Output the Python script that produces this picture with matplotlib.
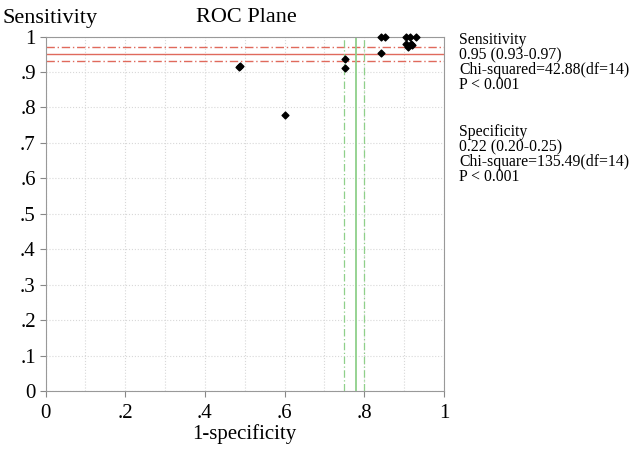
import matplotlib.pyplot as plt
import numpy as np

plt.rcParams['font.family'] = ['Liberation Serif', 'DejaVu Serif']

# 1-specificity, sensitivity of each study
fpr = [0.485, 0.489, 0.600, 0.751, 0.751, 0.842, 0.843, 0.853,
       0.905, 0.915, 0.930, 0.905, 0.917, 0.910, 0.920]
sens = [0.913, 0.918, 0.778, 0.936, 0.912, 0.954, 1.0, 1.0,
        1.0, 1.0, 1.0, 0.980, 0.980, 0.970, 0.975]

sens_pooled = [0.95, 0.93, 0.97]
spec_pooled = [0.22, 0.20, 0.25]

xticks = [0, 0.2, 0.4, 0.6, 0.8, 1.0]
xticklabels = ['0', '.2', '.4', '.6', '.8', '1']
yticks = [0, 0.1, 0.2, 0.3, 0.4, 0.5, 0.6, 0.7, 0.8, 0.9, 1.0]
yticklabels = ['0', '.1', '.2', '.3', '.4', '.5', '.6', '.7', '.8', '.9', '1']

sens_text = ["Sensitivity", "0.95 (0.93-0.97)", "Chi-squared=42.88(df=14)", "P < 0.001"]
spec_text = ["Specificity", "0.22 (0.20-0.25)", "Chi-square=135.49(df=14)", "P < 0.001"]

fig = plt.figure(figsize=(6.32, 4.49), dpi=100)
W, H = 632, 449
ax = fig.add_axes([45.5 / W, 1 - 391 / H, (444 - 45.5) / W, (391 - 36.5) / H])

ax.set_xlim(0, 1)
ax.set_ylim(0, 1)
ax.set_xticks(np.arange(0, 1.01, 0.1), minor=True)
ax.grid(True, which='both', color='#d8d8d8', linestyle=':', linewidth=0.8)
ax.set_axisbelow(True)

# pooled sensitivity (red)
red = '#e06a5c'
ax.axhline(sens_pooled[0], color=red, lw=1.0)
ax.axhline(sens_pooled[1], color=red, lw=1.0, ls=(0, (6, 2, 1, 2)))
ax.axhline(sens_pooled[2], color=red, lw=1.0, ls=(0, (6, 2, 1, 2)))
# pooled 1-specificity (green)
green = '#8fd08a'
ax.axvline(1 - spec_pooled[0], color=green, lw=1.3)
ax.axvline(1 - spec_pooled[1], color=green, lw=0.9, ls=(0, (6, 2, 1, 2)))
ax.axvline(1 - spec_pooled[2], color=green, lw=0.9, ls=(0, (6, 2, 1, 2)))

ax.scatter(fpr, sens, marker='D', s=12, color='black', zorder=5, clip_on=False)

ax.set_xticks(xticks)
ax.set_xticklabels(xticklabels, fontsize=15)
ax.set_yticks(yticks)
ax.set_yticklabels(yticklabels, fontsize=15)
ax.tick_params(axis='both', which='major', direction='out', length=4, color='#888888')
ax.tick_params(axis='x', which='major', pad=5)
ax.tick_params(axis='y', which='major', pad=3)
ax.tick_params(axis='x', which='minor', length=0)
for sp in ax.spines.values():
    sp.set_color('#999999')

ax.set_xlabel('1-specificity', fontsize=15, labelpad=1)
fig.text(2 / W, 1 - 18 / H, 'Sensitivity', fontsize=16, va='center', ha='left')
fig.text(246 / W, 1 - 18 / H, 'ROC Plane', fontsize=16, va='center', ha='center')

for i, t in enumerate(sens_text):
    fig.text(459 / W, 1 - (40 + 15 * i) / H, t, fontsize=11.3, va='center', ha='left')
for i, t in enumerate(spec_text):
    fig.text(459 / W, 1 - (132 + 15 * i) / H, t, fontsize=11.3, va='center', ha='left')

fig.savefig('out.png', dpi=100)
